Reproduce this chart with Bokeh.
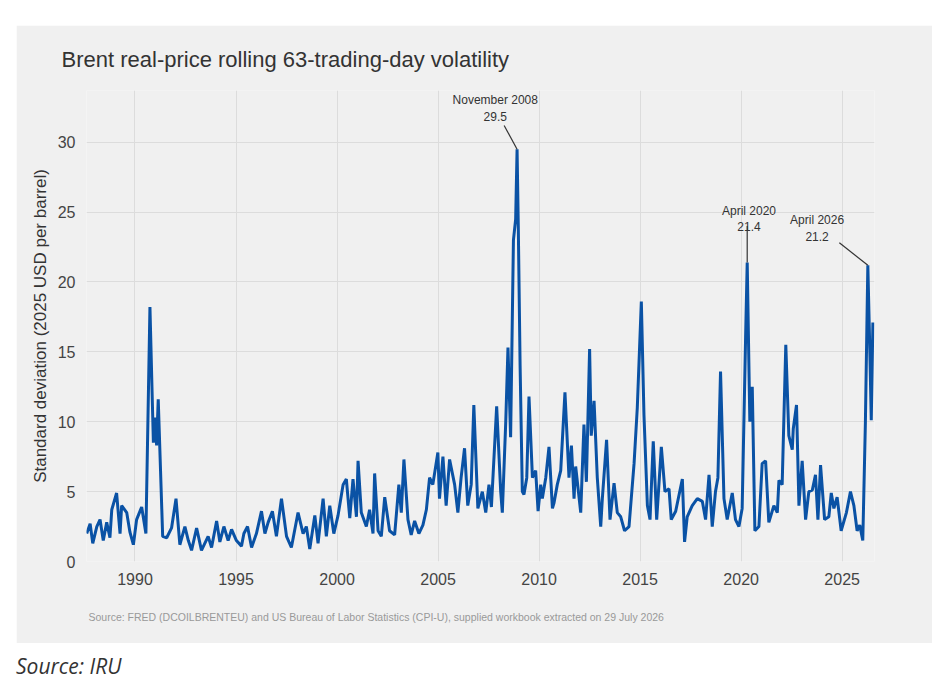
from bokeh.plotting import figure
from bokeh.models import Label, FixedTicker, Range1d, Div, Title
from bokeh.layouts import column
from bokeh.embed import file_html
from bokeh.resources import INLINE

years = [1987.61,1987.78,1987.91,1988.11,1988.27,1988.43,1988.60,1988.76,1988.85,1989.09,1989.26,1989.34,1989.59,1989.75,1989.92,
1990.08,1990.33,1990.54,1990.74,1990.91,1991.00,1991.07,1991.15,1991.37,1991.57,1991.81,1992.03,1992.22,1992.47,1992.64,1992.80,
1993.05,1993.29,1993.62,1993.79,1994.04,1994.20,1994.40,1994.61,1994.78,1995.02,1995.27,1995.39,1995.57,1995.77,1996.01,1996.26,
1996.43,1996.59,1996.80,1997.00,1997.25,1997.50,1997.74,1998.07,1998.32,1998.48,1998.65,1998.90,1999.06,1999.31,1999.47,1999.64,
1999.84,2000.05,2000.30,2000.46,2000.63,2000.79,2000.96,2001.04,2001.20,2001.45,2001.61,2001.78,2001.86,2002.03,2002.19,2002.36,
2002.60,2002.85,2003.06,2003.18,2003.31,2003.51,2003.67,2003.84,2004.05,2004.25,2004.42,2004.58,2004.74,2004.99,2005.07,2005.24,
2005.40,2005.57,2005.82,2005.98,2006.14,2006.31,2006.47,2006.64,2006.77,2006.97,
2007.19,2007.36,2007.52,2007.64,2007.90,2008.10,2008.18,2008.35,2008.46,2008.59,2008.73,2008.84,2008.91,2008.97,2009.06,2009.17,
2009.25,2009.39,2009.50,2009.67,2009.83,2009.95,2010.08,2010.16,2010.33,2010.49,2010.66,2010.74,2010.90,2011.07,2011.28,2011.48,
2011.60,2011.73,2011.81,2012.06,2012.22,2012.34,2012.50,2012.58,2012.72,2012.88,2013.05,2013.13,2013.34,2013.51,2013.71,2013.87,
2014.04,2014.23,2014.45,2014.70,2014.86,2015.06,2015.19,2015.36,2015.49,2015.65,2015.82,2016.05,2016.23,2016.43,2016.54,2016.76,
2017.09,2017.20,2017.33,2017.58,2017.83,2018.08,2018.24,2018.41,2018.57,2018.73,2018.85,2018.98,2019.15,2019.31,2019.56,2019.72,
2019.89,2020.05,2020.22,2020.30,2020.43,2020.55,2020.68,2020.88,2021.04,2021.21,2021.37,2021.62,2021.79,2021.87,2022.03,2022.21,
2022.36,2022.53,2022.58,2022.74,2022.86,2023.02,2023.19,2023.35,2023.52,2023.68,2023.80,2023.93,2024.13,2024.34,2024.46,2024.59,
2024.75,2024.95,2025.21,2025.41,2025.58,2025.74,2025.87,2026.02,2026.15,2026.27,2026.37,2026.44,2026.52]

vol = [2.0,2.7,1.3,2.5,3.0,1.5,2.8,1.7,3.7,4.9,2.0,4.0,3.5,2.1,1.2,
3.0,3.9,2.0,18.2,8.5,10.3,8.3,11.6,1.8,1.7,2.4,4.5,1.2,2.5,1.5,0.8,
2.4,0.8,1.8,1.0,2.9,1.4,2.5,1.5,2.3,1.5,1.1,2.0,2.5,1.0,2.0,3.6,
2.0,2.8,3.6,1.8,4.5,1.8,1.0,3.5,2.0,2.5,0.9,3.3,1.3,4.5,1.8,4.0,
2.0,3.3,5.5,5.9,3.1,5.9,3.2,7.2,3.5,2.5,3.7,2.0,6.3,2.2,1.8,4.6,
2.2,1.9,5.5,3.5,7.3,3.0,1.9,2.9,2.0,2.6,3.7,6.0,5.5,7.8,4.5,7.5,
4.0,7.3,5.5,3.5,6.0,8.1,4.0,5.5,11.2,3.8,
5.0,3.5,5.5,3.9,11.1,5.0,3.5,10.0,15.3,8.9,23.0,24.5,29.5,24.0,14.0,5.0,
4.8,6.0,11.8,6.0,6.5,3.6,5.5,4.5,6.0,8.2,3.8,4.2,5.5,6.5,12.1,6.0,
8.3,4.5,6.8,3.5,9.8,5.7,15.2,9.0,11.5,6.0,2.5,4.5,8.7,3.0,5.6,3.5,
3.2,2.2,2.5,7.0,11.0,18.6,10.5,4.0,3.0,8.6,3.0,8.2,5.0,5.2,3.0,3.6,
5.9,1.4,3.2,4.0,4.5,4.3,3.0,6.2,2.5,5.0,6.0,13.6,4.5,3.0,4.9,3.0,
2.5,3.8,16.0,21.4,10.0,12.5,2.2,2.5,7.0,7.2,2.8,4.0,3.5,5.8,5.5,15.5,
9.0,8.0,9.5,11.2,4.0,7.2,3.0,5.0,5.1,6.2,3.0,6.9,3.0,3.2,4.9,3.8,
4.6,2.2,3.5,5.0,4.0,2.2,2.6,1.5,10.0,21.2,15.0,10.1,17.1]

x_ticks = [1990, 1995, 2000, 2005, 2010, 2015, 2020, 2025]
y_ticks = [0, 5, 10, 15, 20, 25, 30]

ann_names = ["November 2008", "April 2020", "April 2026"]
ann_x = [2008.91, 2020.30, 2026.27]
ann_y = [29.5, 21.4, 21.2]
ann_text_x = [2007.83, 2020.39, 2023.76]
ann_text_y = [33.0, 25.1, 24.4]
ann_line_x0 = [2008.27, 2020.30, 2024.86]
ann_line_y0 = [31.2, 24.0, 22.8]

BG = "#f0f0f0"
p = figure(width=916, height=618, output_backend="svg", toolbar_location=None,
           x_range=Range1d(1987.6, 2026.6), y_range=Range1d(0, 33.7),
           background_fill_color=BG, border_fill_color=BG,
           min_border_left=70, min_border_right=58, min_border_top=64, min_border_bottom=80)
p.margin = (25, 0, 0, 16)
p.outline_line_color = None
p.title.text = "Brent real-price rolling 63-trading-day volatility"
p.title.text_font = "Liberation Sans"
p.title.text_font_size = "22px"
p.title.text_font_style = "normal"
p.title.text_color = "#333333"
p.title.offset = -25
p.title.standoff = 38

p.add_layout(Title(text="Source: FRED (DCOILBRENTEU) and US Bureau of Labor Statistics (CPI-U), supplied workbook extracted on 29 July 2026",
                   align="left", offset=2, standoff=42, text_font="Liberation Sans", text_font_size="10.5px",
                   text_font_style="normal", text_color="#999999"), "below")

p.line(years, vol, line_color="#0a52a5", line_width=3)

for ax in (p.xaxis, p.yaxis):
    ax.axis_line_color = None
    ax.major_tick_line_color = None
    ax.minor_tick_line_color = None
    ax.major_label_text_font = "Liberation Sans"
    ax.major_label_text_font_size = "16px"
    ax.major_label_text_color = "#444444"
p.xaxis.ticker = FixedTicker(ticks=x_ticks)
p.yaxis.ticker = FixedTicker(ticks=y_ticks)
p.yaxis.axis_label = "Standard deviation (2025 USD per barrel)"
p.yaxis.axis_label_text_font = "Liberation Sans"
p.yaxis.axis_label_text_font_size = "17px"
p.yaxis.axis_label_text_font_style = "normal"
p.yaxis.axis_label_text_color = "#333333"
p.xgrid.grid_line_color = "#dcdcdc"
p.ygrid.grid_line_color = "#dcdcdc"
p.xgrid.ticker = FixedTicker(ticks=x_ticks)
p.ygrid.ticker = FixedTicker(ticks=y_ticks)

p.segment(ann_line_x0, ann_line_y0, ann_x, ann_y, line_color="#333333", line_width=1.2)
for n, tx, ty, v in zip(ann_names, ann_text_x, ann_text_y, ann_y):
    p.add_layout(Label(x=tx, y=ty, text=n, text_align="center", text_baseline="middle",
                       text_font="Liberation Sans", text_font_size="12px", text_color="#333333"))
    p.add_layout(Label(x=tx, y=ty - 1.15, text=f"{v:.1f}", text_align="center", text_baseline="middle",
                       text_font="Liberation Sans", text_font_size="12px", text_color="#333333"))

div = Div(text='<span style="font-family:\'Open Sans\';font-style:italic;font-size:21px;color:#333">Source: IRU</span>',
          margin=(8, 0, 0, 16))

open("out.html", "w").write(file_html(column(p, div), INLINE))
